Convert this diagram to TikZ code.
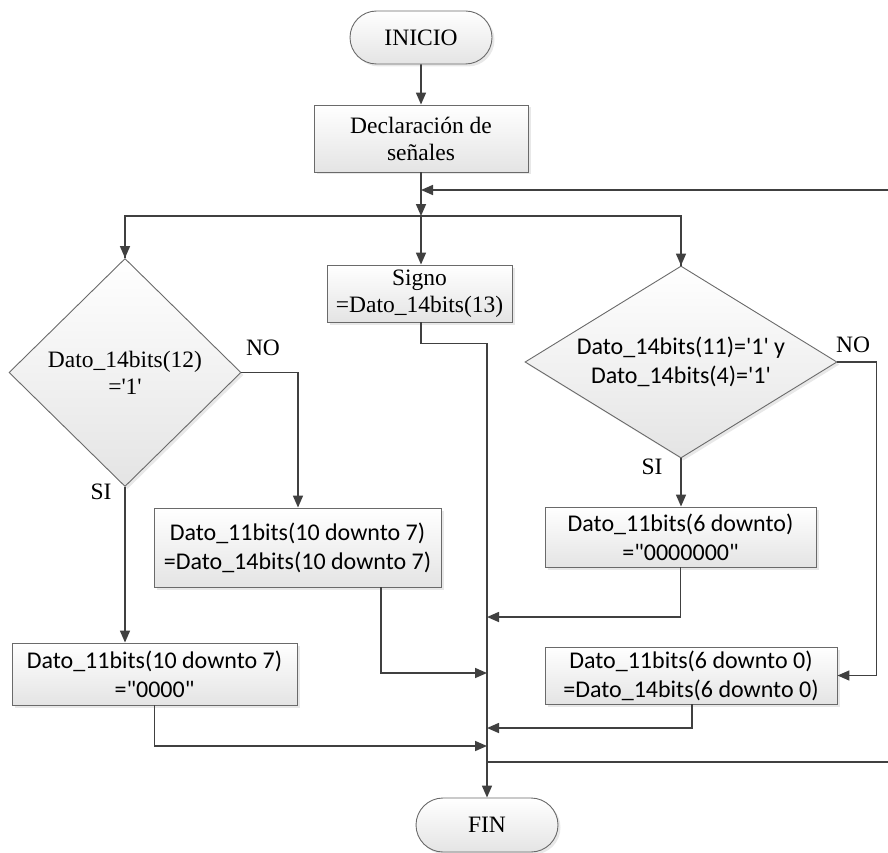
\documentclass[tikz,border=0pt]{standalone}
\usepackage{fontspec}
\setmainfont{Liberation Serif}
\newfontfamily\sansbox{Carlito}
\usetikzlibrary{shapes.geometric,shapes.misc,arrows.meta,shadows}

\definecolor{linegray}{HTML}{404040}
\definecolor{edgegray}{HTML}{6A6A6A}
\definecolor{fillgray}{HTML}{E4E4E4}

\begin{document}
\begin{tikzpicture}[x=1pt,y=-1pt,
  shape base/.style={draw=edgegray, line width=0.9pt, top color=white, bottom color=fillgray,
    drop shadow={shadow xshift=2.5pt, shadow yshift=-2.5pt, opacity=0.18},
    inner sep=0pt, align=center},
  serif text/.style={font=\fontsize{23.5}{27}\selectfont},
  sans text/.style={font=\sansbox\fontsize{24}{29}\selectfont},
  terminal/.style={shape base, rounded rectangle, serif text},
  procbox/.style={shape base, rectangle},
  decision/.style={shape base, diamond},
  flow/.style={draw=linegray, line width=1.6pt, -{Triangle[length=12pt,width=10pt]}},
  plain/.style={draw=linegray, line width=1.6pt},
  branchlabel/.style={font=\fontsize{23.5}{26}\selectfont, inner sep=0pt}
]
\useasboundingbox (0,0) rectangle (888,853);

% start, declarations
\node[terminal, minimum width=142pt, minimum height=53pt] (inicio) at (421,37.5) {INICIO};
\node[procbox, serif text, minimum width=214pt, minimum height=67pt] (decl) at (421,138.5)
  {Declaración de\\señales};

% three parallel branches
\node[decision, serif text, minimum width=232pt, minimum height=228pt, aspect=1] (d12) at (125,372.5)
  {Dato\_14bits(12)\\=\textquotesingle1\textquotesingle};
\node[procbox, serif text, minimum width=185pt, minimum height=57pt] (signo) at (419.5,293.5)
  {Signo\\=Dato\_14bits(13)};
\node[decision, sans text, minimum width=312pt, minimum height=192pt, aspect=1.625] (d11) at (681,362)
  {Dato\_14bits(11)='1' y\\Dato\_14bits(4)='1'};

\node[procbox, sans text, minimum width=287pt, minimum height=79pt] (b107) at (297.5,547.5)
  {Dato\_11bits(10 downto 7)\\=Dato\_14bits(10 downto 7)};
\node[procbox, sans text, minimum width=285pt, minimum height=62pt] (b0000) at (154.5,674)
  {Dato\_11bits(10 downto 7)\\="0000"};
\node[procbox, sans text, minimum width=271pt, minimum height=60pt] (b6z) at (680.5,537)
  {Dato\_11bits(6 downto)\\="0000000"};
\node[procbox, sans text, minimum width=292pt, minimum height=57pt] (b60) at (691,675.5)
  {Dato\_11bits(6 downto 0)\\=Dato\_14bits(6 downto 0)};

\node[terminal, minimum width=142pt, minimum height=54pt] (fin) at (487,825) {FIN};

% branch labels
\node[branchlabel] (no1) at (263,348) {NO};
\node[branchlabel] (si1) at (101,492) {SI};
\node[branchlabel] (no2) at (853,345) {NO};
\node[branchlabel] (si2) at (652,467) {SI};

% junction points
\coordinate (split) at (421,216);
\coordinate (loopin) at (421,190);
\coordinate (loopR) at (900,190);
\coordinate (loopout) at (487,762);
\coordinate (loopRb) at (900,762);

% main trunk
\draw[flow] (inicio) -- (decl);
\draw[flow] (decl) -- (split);
\draw[plain] (split) -| (d12.north);
\draw[plain] (split) -| (d11.north);
\draw[flow] (split) -- (split |- signo.north);
\draw[flow] (split -| d12.north) -- (d12.north);
\draw[flow] (split -| d11.north) -- (d11.north);

% repeat loop on the right
\draw[flow] (loopout) -- (loopRb) -- (loopR) -- (loopin);

% left decision
\draw[flow] (d12.east) -| (b107.north -| 298,0);
\draw[flow] (d12.south) -- (b0000.north -| d12.south);

% right decision
\draw[flow] (d11.south) -- (b6z.north -| d11.south);
\draw[flow] (d11.east) -- ++(39,0) |- (b60.east);

% collector towards the end
\draw[flow] (signo.south -| split) -- ++(0,21) -| (fin.north);
\draw[flow] (b107.south -| 381,0) |- (487,673);
\draw[flow] (b0000.south) |- (487,746);
\draw[flow] (b6z.south) |- (487,617);
\draw[flow] (b60.south -| 692,0) |- (487,728);

\end{tikzpicture}
\end{document}
